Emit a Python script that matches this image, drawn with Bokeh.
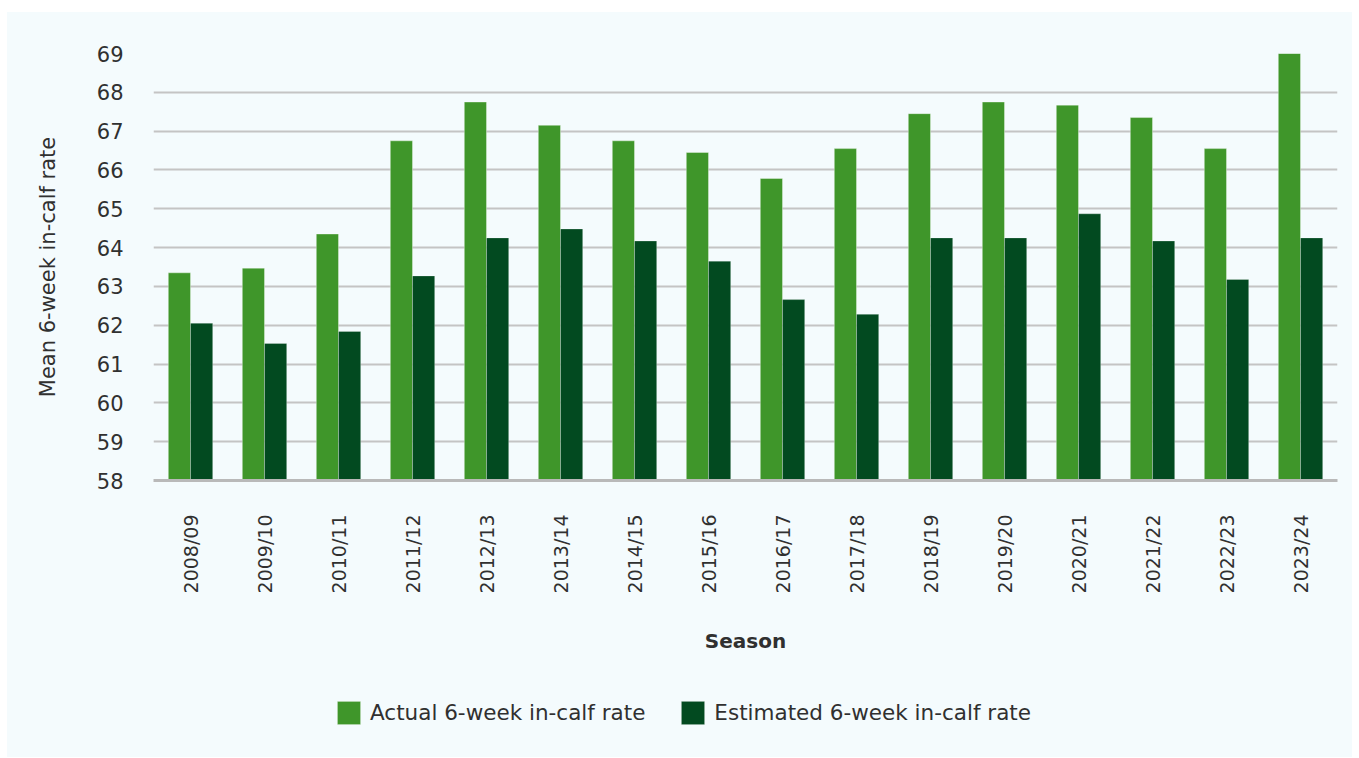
import math
from bokeh.plotting import figure
from bokeh.layouts import column, row
from bokeh.models import (ColumnDataSource, FactorRange, Range1d, FixedTicker,
                          Legend, LegendItem, Spacer)
from bokeh.transform import dodge
from bokeh.embed import file_html
from bokeh.resources import INLINE

seasons = ["2008/09", "2009/10", "2010/11", "2011/12", "2012/13", "2013/14",
           "2014/15", "2015/16", "2016/17", "2017/18", "2018/19", "2019/20",
           "2020/21", "2021/22", "2022/23", "2023/24"]
actual = [63.35, 63.47, 64.35, 66.75, 67.75, 67.15, 66.75, 66.45, 65.78,
          66.55, 67.45, 67.75, 67.67, 67.35, 66.55, 69.0]
estimated = [62.05, 61.53, 61.84, 63.27, 64.25, 64.48, 64.17, 63.65, 62.66,
             62.28, 64.25, 64.25, 64.87, 64.17, 63.18, 64.25]
y_ticks = list(range(58, 70))
series_labels = ["Actual 6-week in-calf rate", "Estimated 6-week in-calf rate"]

FONT = "DejaVu Sans"
BG = "#F4FBFD"
C_ACT = "#3F962A"
C_EST = "#024A20"
TXT = "#303030"

src = ColumnDataSource(dict(season=seasons, actual=actual, estimated=estimated))

p = figure(x_range=FactorRange(factors=seasons), y_range=Range1d(58, 69),
           width=1345, height=668, output_backend="svg", toolbar_location=None,
           min_border_left=146, min_border_right=15, min_border_top=41,
           min_border_bottom=200)
p.background_fill_color = BG
p.border_fill_color = BG
p.outline_line_color = None

p.vbar(x=dodge("season", -0.15, range=p.x_range), top="actual", bottom=58,
       width=0.3, source=src, fill_color=C_ACT, line_color="white",
       line_alpha=0.35, line_width=1)
p.vbar(x=dodge("season", 0.15, range=p.x_range), top="estimated", bottom=58,
       width=0.3, source=src, fill_color=C_EST, line_color="white",
       line_alpha=0.25, line_width=1)

p.xgrid.grid_line_color = None
p.ygrid.grid_line_color = "#c4c4c4"
p.ygrid.grid_line_width = 2
p.ygrid.level = "underlay"

yax = p.yaxis[0]
yax.ticker = FixedTicker(ticks=y_ticks)
yax.axis_line_color = None
yax.major_tick_line_color = None
yax.minor_tick_line_color = None
yax.major_label_text_font = FONT
yax.major_label_text_font_size = "21px"
yax.major_label_text_color = TXT
yax.major_label_standoff = 24
yax.axis_label = "Mean 6-week in-calf rate"
yax.axis_label_text_font = FONT
yax.axis_label_text_font_size = "21px"
yax.axis_label_text_font_style = "normal"
yax.axis_label_text_color = TXT
yax.axis_label_standoff = 34

xax = p.xaxis[0]
xax.axis_line_color = "#b9b9b9"
xax.axis_line_width = 3
xax.major_tick_line_color = None
xax.minor_tick_line_color = None
xax.major_label_orientation = math.pi / 2
xax.major_label_text_font = FONT
xax.major_label_text_font_size = "19px"
xax.major_label_text_color = TXT
xax.major_label_standoff = 28
xax.axis_label = "Season"
xax.axis_label_text_font = FONT
xax.axis_label_text_font_size = "20px"
xax.axis_label_text_font_style = "bold"
xax.axis_label_text_color = TXT
xax.axis_label_standoff = 33

# legend strip (separate figure so the legend can sit off-centre, as in the original)
lg = figure(width=1345, height=77, x_range=Range1d(0, 1), y_range=Range1d(100, 101),
            output_backend="svg", toolbar_location=None,
            x_axis_location=None, y_axis_location=None,
            min_border=0, min_border_left=0, min_border_right=0,
            min_border_top=0, min_border_bottom=0)
lg.background_fill_color = BG
lg.border_fill_color = BG
lg.outline_line_color = None
lg.grid.grid_line_color = None
# same data, mapped outside this strip's visible range: only the legend swatches show
d1 = lg.vbar(x="actual", top="actual", width=0.1, source=src, fill_color=C_ACT,
             line_color="white", line_alpha=0.35)
d2 = lg.vbar(x="estimated", top="estimated", width=0.1, source=src,
             fill_color=C_EST, line_color="white", line_alpha=0.25)
legend = Legend(items=[LegendItem(label=series_labels[0], renderers=[d1]),
                       LegendItem(label=series_labels[1], renderers=[d2])],
                orientation="horizontal", location=(181, 30))
legend.padding = 0
legend.margin = 0
legend.border_line_color = None
legend.background_fill_alpha = 0
legend.glyph_width = 29
legend.glyph_height = 29
legend.label_standoff = 7
legend.spacing = 33
legend.label_text_font = FONT
legend.label_text_font_size = "21.5px"
legend.label_text_color = TXT
lg.add_layout(legend, "center")

layout = column(Spacer(height=12),
                row(Spacer(width=7),
                    column(p, lg, styles={"background-color": BG})))
open("out.html", "w").write(file_html(layout, INLINE))
